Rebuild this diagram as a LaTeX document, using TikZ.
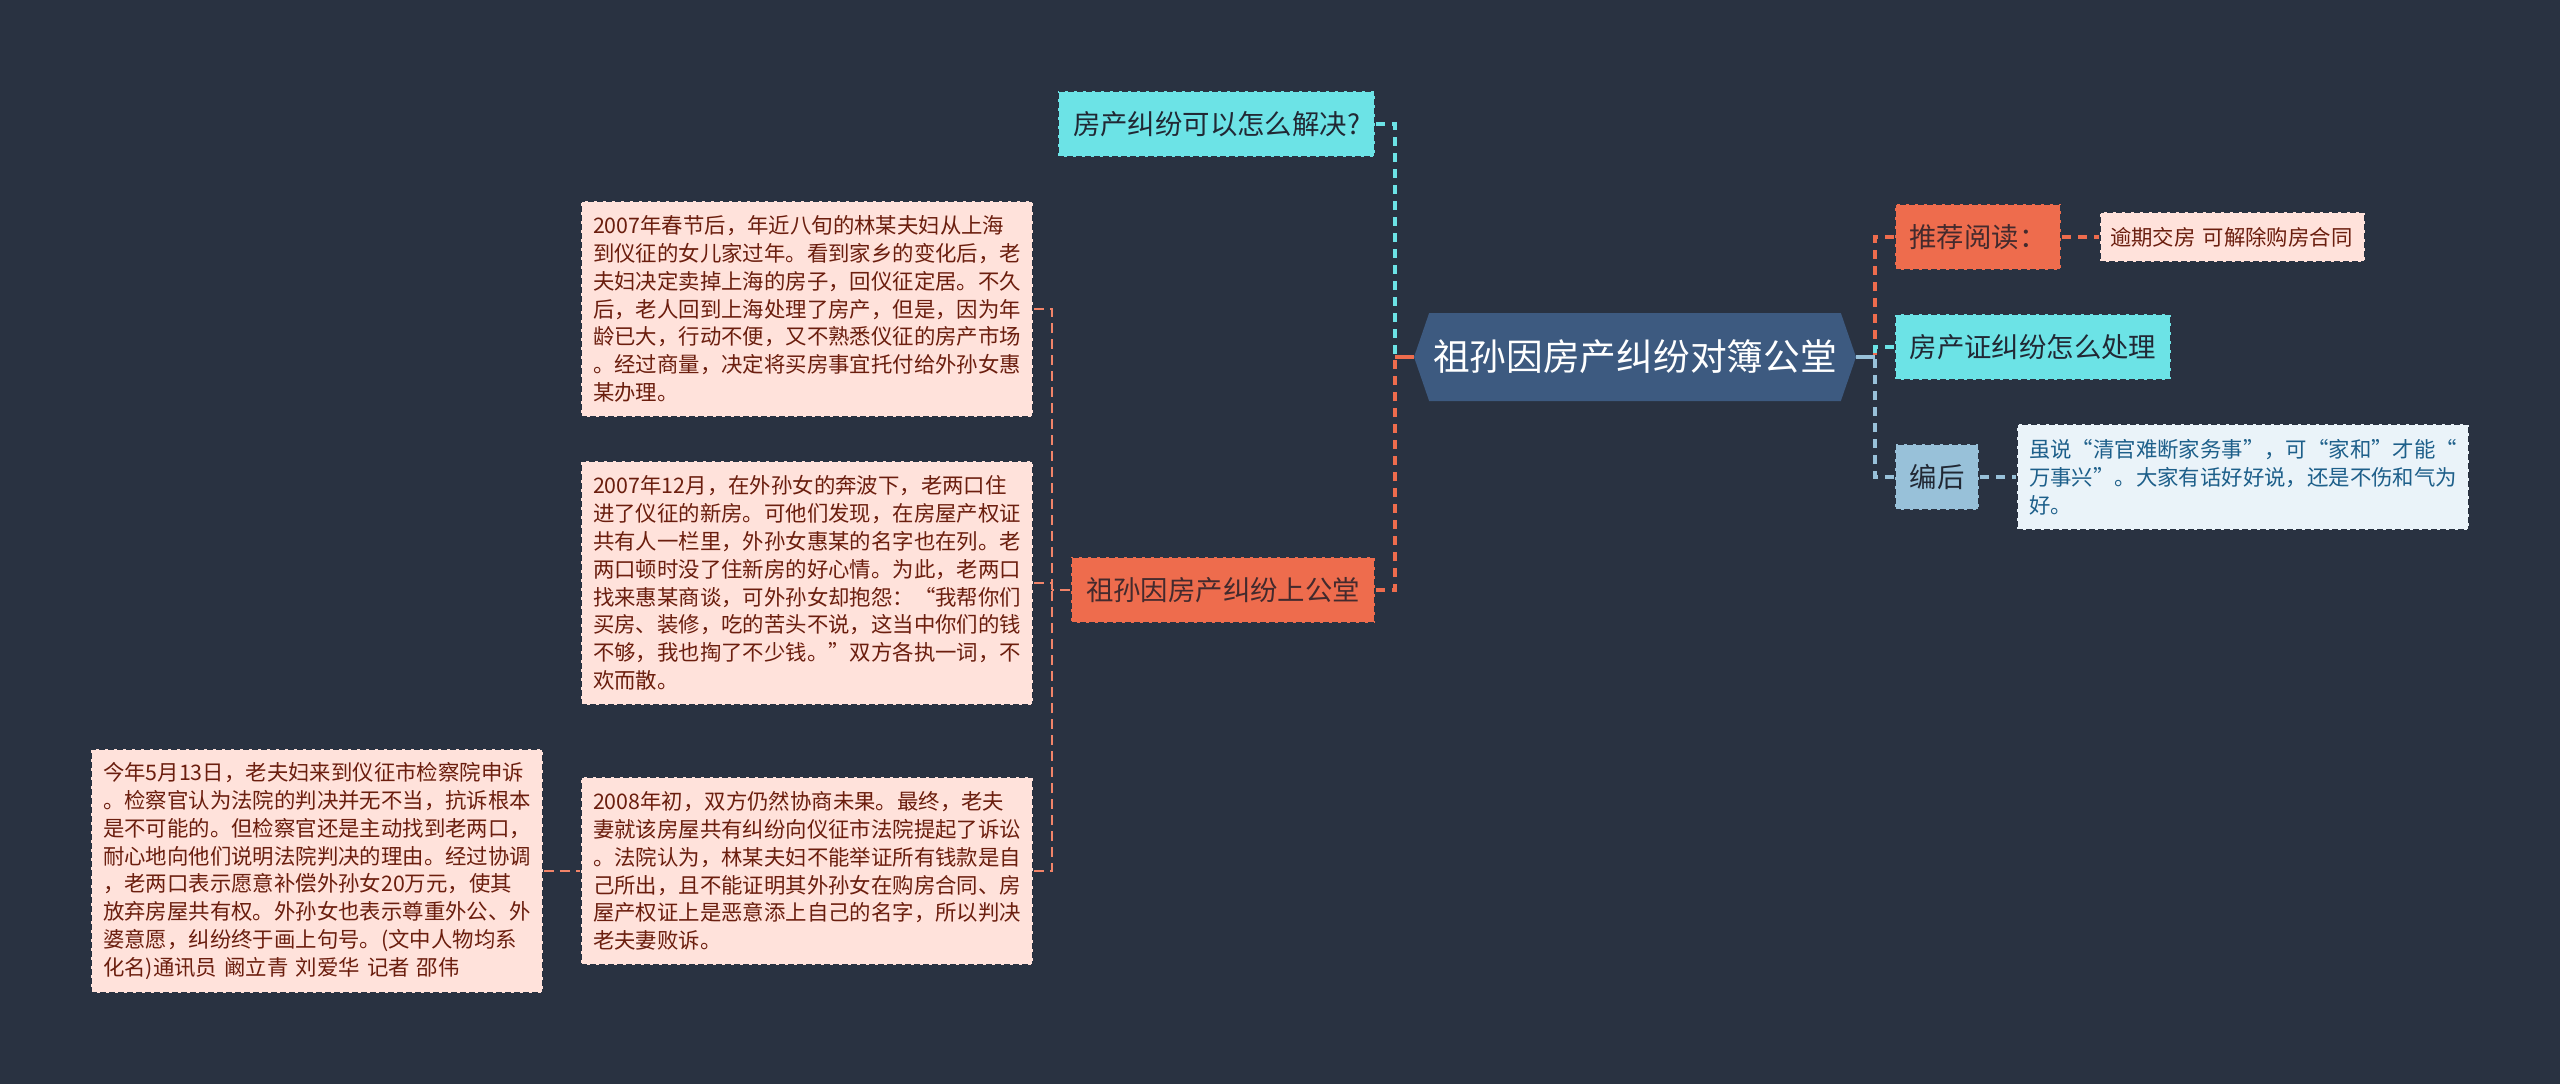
\documentclass[tikz,border=0pt]{standalone}
\usepackage{fontspec}
\setmainfont{Noto Sans CJK SC}
\usetikzlibrary{shapes,arrows,positioning}
\definecolor{fondo}{HTML}{293241}
\definecolor{rojo}{HTML}{EE6C4D}
\definecolor{rosa}{HTML}{FFE2DB}
\definecolor{turquesa}{HTML}{6CE3E6}
\definecolor{celeste}{HTML}{98C1D9}
\definecolor{hielo}{HTML}{EAF3F9}
\definecolor{marino}{HTML}{3D5A80}
\definecolor{granate}{HTML}{6B1E0E}
\definecolor{tinta}{HTML}{1D5F8A}
\tikzstyle{caja} = [rectangle, draw=fondo, line width=2pt, dash pattern=on 6pt off 3pt, inner xsep=0pt, inner ysep=0pt]
\tikzstyle{tema} = [caja, font=\fontsize{27.4}{33}\selectfont, minimum height=66pt, align=center]
\tikzstyle{temarojo} = [tema, fill=rojo, text=fondo!60!granate]
\tikzstyle{tematur} = [tema, fill=turquesa, text=fondo!80!black]
\tikzstyle{temacel} = [tema, fill=celeste, text=fondo!80!black]
\tikzstyle{nota} = [caja, fill=rosa, text=granate, font=\fontsize{21.4}{27.8}\selectfont, text width=428pt, inner xsep=12pt, align=left]
\tikzstyle{notahielo} = [nota, fill=hielo, text=tinta]
\tikzstyle{raiz} = [signal, signal to=west and east, signal pointer angle=142, fill=marino, text=white, font=\fontsize{36.7}{44}\selectfont, minimum width=442pt, minimum height=88pt, inner sep=0pt]
\tikzstyle{enlace} = [line width=3.5pt, dash pattern=on 9pt off 7pt]
\tikzstyle{enlacefino} = [line width=2pt, dash pattern=on 10pt off 6pt, color=rojo!80!rosa]
\begin{document}
\begin{tikzpicture}[x=1pt,y=-1pt]
	\fill[fondo] (0,0) rectangle (2560,1084);
	\node[raiz] (raizcentro) at (1635,357) {祖孙因房产纠纷对簿公堂};
	\node[tematur, minimum width=317pt] (pregunta) at (1216.5,124) {房产纠纷可以怎么解决?};
	\node[temarojo, minimum width=304pt] (titulo) at (1223,590) {祖孙因房产纠纷上公堂};
	\node[temarojo, minimum width=166pt] (lectura) at (1978,237) {推荐阅读：};
	\node[tematur, minimum width=276pt] (certificado) at (2033,347) {房产证纠纷怎么处理};
	\node[temacel, minimum width=84pt] (editor) at (1937,477) {编后};
	\node[nota, text width=245pt, inner xsep=10pt, minimum height=50pt] (contrato) at (2232.5,237) {逾期交房 可解除购房合同};
	\node[notahielo, minimum height=106pt] (consejo) at (2243,477) {%
		虽说“清官难断家务事”，可“家和”才能“\\
		万事兴”。大家有话好好说，还是不伤和气为\\
		好。};
	\node[nota, minimum height=216pt] (hecho) at (807,309) {%
		2007年春节后，年近八旬的林某夫妇从上海\\
		到仪征的女儿家过年。看到家乡的变化后，老\\
		夫妇决定卖掉上海的房子，回仪征定居。不久\\
		后，老人回到上海处理了房产，但是，因为年\\
		龄已大，行动不便，又不熟悉仪征的房产市场\\
		。经过商量，决定将买房事宜托付给外孙女惠\\
		某办理。};
	\node[nota, minimum height=244pt] (disputa) at (807,583) {%
		2007年12月，在外孙女的奔波下，老两口住\\
		进了仪征的新房。可他们发现，在房屋产权证\\
		共有人一栏里，外孙女惠某的名字也在列。老\\
		两口顿时没了住新房的好心情。为此，老两口\\
		找来惠某商谈，可外孙女却抱怨：“我帮你们\\
		买房、装修，吃的苦头不说，这当中你们的钱\\
		不够，我也掏了不少钱。”双方各执一词，不\\
		欢而散。};
	\node[nota, minimum height=188pt] (juicio) at (807,871) {%
		2008年初，双方仍然协商未果。最终，老夫\\
		妻就该房屋共有纠纷向仪征市法院提起了诉讼\\
		。法院认为，林某夫妇不能举证所有钱款是自\\
		己所出，且不能证明其外孙女在购房合同、房\\
		屋产权证上是恶意添上自己的名字，所以判决\\
		老夫妻败诉。};
	\node[nota, minimum height=244pt] (acuerdo) at (317,871) {%
		今年5月13日，老夫妇来到仪征市检察院申诉\\
		。检察官认为法院的判决并无不当，抗诉根本\\
		是不可能的。但检察官还是主动找到老两口，\\
		耐心地向他们说明法院判决的理由。经过协调\\
		，老两口表示愿意补偿外孙女20万元，使其\\
		放弃房屋共有权。外孙女也表示尊重外公、外\\
		婆意愿，纠纷终于画上句号。(文中人物均系\\
		化名)通讯员 阚立青 刘爱华 记者 邵伟};
	\coordinate (troncoizq) at (1395,357);
	\coordinate (troncoder) at (1875,357);
	\coordinate (troncotit) at (1052,590);
	\draw[enlace, turquesa] (pregunta.east) -| (troncoizq);
	\draw[enlace, rojo] (titulo.east) -| (troncoizq);
	\draw[line width=3.5pt, rojo] (raizcentro.west) -- (troncoizq);
	\draw[enlace, rojo] (lectura.west) -| (troncoder);
	\draw[enlace, turquesa] (certificado.west) -| (troncoder);
	\draw[enlace, celeste] (editor.west) -| (troncoder);
	\draw[line width=3.5pt, celeste] (raizcentro.east) -- (troncoder);
	\draw[enlace, rojo] (lectura.east) -- (contrato.west);
	\draw[enlace, celeste] (editor.east) -- (consejo.west);
	\draw[enlacefino] (titulo.west) -- (troncotit);
	\draw[enlacefino] (hecho.east) -| (troncotit);
	\draw[enlacefino] (disputa.east) -| (troncotit);
	\draw[enlacefino] (juicio.east) -| (troncotit);
	\draw[enlacefino] (acuerdo.east) -- (juicio.west);
\end{tikzpicture}
\end{document}
